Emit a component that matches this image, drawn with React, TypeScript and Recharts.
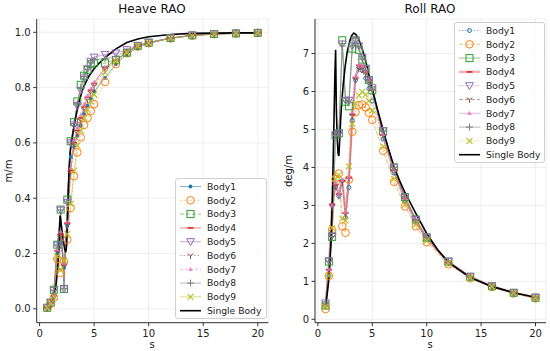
import React from 'react';
import { LineChart, Line, XAxis, YAxis, CartesianGrid, Legend } from 'recharts';

const FONT = '"DejaVu Sans", Verdana, sans-serif';

// wave periods of the array bodies (s)
const periods = [0.7, 1.01, 1.31, 1.62, 1.93, 2.24, 2.54, 2.85, 3.16, 3.46, 3.77, 4.08, 4.39, 4.69, 5.0, 6, 7, 8, 9, 10, 12, 14, 16, 18, 20];

// Heave RAO (m/m)
const heaveBody1 = [0.003, 0.02, 0.045, 0.2, 0.24, 0.15, 0.3, 0.55, 0.585, 0.626, 0.662, 0.705, 0.735, 0.76, 0.786, 0.835, 0.885, 0.92, 0.945, 0.96, 0.978, 0.988, 0.993, 0.996, 0.998];
const heaveBody2 = [0.004, 0.018, 0.04, 0.18, 0.13, 0.17, 0.25, 0.365, 0.48, 0.566, 0.62, 0.665, 0.69, 0.715, 0.74, 0.82, 0.885, 0.924, 0.948, 0.96, 0.978, 0.988, 0.993, 0.996, 0.998];
const heaveBody3 = [0.004, 0.022, 0.069, 0.232, 0.359, 0.072, 0.395, 0.606, 0.675, 0.75, 0.81, 0.843, 0.864, 0.885, 0.89, 0.888, 0.9, 0.926, 0.951, 0.963, 0.979, 0.989, 0.994, 0.996, 0.998];
const heaveBody4 = [0.003, 0.021, 0.048, 0.21, 0.27, 0.16, 0.31, 0.5, 0.6, 0.645, 0.69, 0.73, 0.765, 0.79, 0.815, 0.872, 0.9, 0.928, 0.95, 0.962, 0.979, 0.989, 0.994, 0.996, 0.998];
const heaveBody5 = [0.005, 0.024, 0.066, 0.23, 0.357, 0.072, 0.385, 0.6, 0.665, 0.735, 0.79, 0.835, 0.868, 0.895, 0.91, 0.92, 0.925, 0.937, 0.952, 0.963, 0.979, 0.989, 0.994, 0.996, 0.998];
const heaveBody6 = [0.003, 0.02, 0.047, 0.205, 0.26, 0.155, 0.3, 0.49, 0.59, 0.635, 0.68, 0.72, 0.755, 0.78, 0.805, 0.865, 0.895, 0.926, 0.95, 0.962, 0.979, 0.989, 0.994, 0.996, 0.998];
const heaveBody7 = [0.003, 0.021, 0.049, 0.215, 0.28, 0.165, 0.315, 0.51, 0.61, 0.655, 0.7, 0.74, 0.77, 0.795, 0.82, 0.875, 0.9, 0.93, 0.95, 0.962, 0.979, 0.989, 0.994, 0.996, 0.998];
const heaveBody8 = [0.004, 0.023, 0.067, 0.231, 0.358, 0.073, 0.39, 0.603, 0.67, 0.742, 0.8, 0.84, 0.866, 0.89, 0.9, 0.905, 0.912, 0.932, 0.952, 0.963, 0.979, 0.989, 0.994, 0.996, 0.998];
const heaveBody9 = [0.004, 0.019, 0.043, 0.19, 0.14, 0.175, 0.27, 0.38, 0.5, 0.59, 0.645, 0.69, 0.72, 0.75, 0.775, 0.855, 0.895, 0.926, 0.95, 0.962, 0.978, 0.988, 0.993, 0.996, 0.998];

// Roll RAO (deg/m)
const rollBody1 = [0.35, 1.15, 3.0, 3.5, 3.24, 3.65, 2.68, 3.47, 5.24, 6.3, 6.63, 6.55, 6.35, 6.08, 5.75, 4.75, 3.85, 3.1, 2.55, 2.1, 1.48, 1.1, 0.86, 0.69, 0.56];
const rollBody2 = [0.27, 1.14, 2.35, 3.7, 3.84, 2.45, 2.28, 3.68, 4.94, 5.46, 5.64, 5.66, 5.58, 5.44, 5.25, 4.44, 3.62, 2.97, 2.45, 2.03, 1.45, 1.08, 0.85, 0.68, 0.55];
const rollBody3 = [0.36, 1.52, 2.17, 4.85, 4.9, 7.35, 5.73, 5.61, 7.13, 7.35, 7.1, 6.84, 6.6, 6.3, 6.03, 4.95, 4.0, 3.22, 2.63, 2.15, 1.52, 1.12, 0.87, 0.7, 0.57];
const rollBody4 = [0.38, 1.3, 3.03, 3.55, 3.3, 3.65, 2.8, 3.72, 5.4, 6.37, 6.69, 6.65, 6.52, 6.3, 6.05, 4.85, 3.92, 3.18, 2.6, 2.14, 1.5, 1.11, 0.87, 0.7, 0.57];
const rollBody5 = [0.43, 1.54, 2.2, 4.85, 4.9, 7.25, 5.77, 5.77, 7.2, 7.35, 7.2, 6.9, 6.6, 6.3, 6.1, 4.97, 4.0, 3.22, 2.63, 2.17, 1.53, 1.13, 0.88, 0.7, 0.58];
const rollBody6 = [0.37, 1.28, 2.95, 3.5, 3.25, 3.6, 2.75, 3.7, 5.35, 6.3, 6.6, 6.6, 6.45, 6.25, 6.0, 4.82, 3.9, 3.16, 2.59, 2.13, 1.5, 1.11, 0.87, 0.7, 0.57];
const rollBody7 = [0.38, 1.32, 3.0, 3.6, 3.3, 3.67, 2.82, 3.75, 5.45, 6.4, 6.72, 6.67, 6.55, 6.32, 6.08, 4.87, 3.93, 3.19, 2.61, 2.14, 1.5, 1.11, 0.87, 0.7, 0.57];
const rollBody8 = [0.4, 1.53, 2.18, 4.85, 4.9, 7.2, 5.75, 5.75, 7.2, 7.4, 7.15, 6.85, 6.55, 6.25, 6.05, 4.96, 4.0, 3.22, 2.63, 2.16, 1.53, 1.13, 0.88, 0.7, 0.58];
const rollBody9 = [0.33, 1.15, 2.4, 3.7, 3.8, 2.65, 2.6, 4.03, 5.15, 5.68, 5.9, 5.99, 5.92, 5.75, 5.5, 4.55, 3.7, 3.02, 2.5, 2.07, 1.47, 1.09, 0.86, 0.69, 0.56];

// single body reference curves (finer period grid)
const singleHeaveT = [0.7, 0.9, 1.1, 1.3, 1.5, 1.65, 1.78, 1.88, 2.0, 2.15, 2.3, 2.4, 2.48, 2.56, 2.64, 2.72, 2.8, 2.9, 3.0, 3.2, 3.43, 3.7, 4.0, 4.5, 5.0, 5.5, 6, 7, 8, 9, 10, 12, 14, 16, 18, 20];
const singleHeave = [0.0, 0.01, 0.025, 0.05, 0.085, 0.14, 0.22, 0.337, 0.3, 0.255, 0.215, 0.205, 0.23, 0.32, 0.44, 0.52, 0.565, 0.595, 0.62, 0.67, 0.715, 0.76, 0.8, 0.84, 0.868, 0.89, 0.908, 0.94, 0.963, 0.976, 0.984, 0.992, 0.996, 0.997, 0.998, 0.998];
const singleRollT = [0.7, 0.85, 1.0, 1.1, 1.2, 1.3, 1.4, 1.48, 1.56, 1.63, 1.7, 1.78, 1.86, 1.93, 2.0, 2.1, 2.2, 2.35, 2.5, 2.7, 2.9, 3.1, 3.3, 3.5, 3.7, 3.92, 4.2, 4.53, 4.8, 5.14, 5.5, 6, 6.5, 7, 7.5, 8, 9, 10, 11, 12, 14, 16, 18, 20];
const singleRoll = [0.3, 0.65, 1.03, 1.45, 2.0, 2.9, 4.1, 5.24, 6.4, 7.1, 5.5, 4.75, 4.35, 4.3, 4.7, 5.3, 5.75, 6.25, 6.65, 7.05, 7.3, 7.47, 7.54, 7.5, 7.4, 7.26, 7.0, 6.65, 6.3, 5.9, 5.5, 4.98, 4.48, 4.02, 3.66, 3.34, 2.79, 2.26, 1.83, 1.5, 1.1, 0.86, 0.7, 0.58];

const bodyNames = ['Body1', 'Body2', 'Body3', 'Body4', 'Body5', 'Body6', 'Body7', 'Body8', 'Body9'];
const bodyColors = ['#1f77b4', '#ff7f0e', '#2ca02c', '#d62728', '#9467bd', '#8c564b', '#e377c2', '#7f7f7f', '#bcbd22'];

const xTicks = [0, 5, 10, 15, 20];
const heaveTicks = [0, 0.2, 0.4, 0.6, 0.8, 1.0];
const rollTicks = [0, 1, 2, 3, 4, 5, 6, 7];

// line/marker styles per body for each panel
const heaveStyles = [
  { shape: 'point', dash: undefined },
  { shape: 'circle', dash: '1.5 2' },
  { shape: 'square', dash: '4 2' },
  { shape: 'hline', dash: undefined },
  { shape: 'tridown', dash: undefined },
  { shape: 'y1', dash: '1.5 2' },
  { shape: 'triup', dash: '3 2' },
  { shape: 'plus', dash: undefined },
  { shape: 'cross', dash: undefined },
];
const rollStyles = [
  { shape: 'smallcircle', dash: '1.5 1.5' },
  { shape: 'circle', dash: '4 2' },
  { shape: 'square', dash: undefined },
  { shape: 'hline', dash: undefined, thick: true },
  { shape: 'tridown', dash: '1.5 1.5' },
  { shape: 'y1', dash: '4 2' },
  { shape: 'triup', dash: undefined },
  { shape: 'plus', dash: undefined },
  { shape: 'cross', dash: '1.5 1.5' },
];

const toRows = (xs: number[], ys: number[]) => xs.map((x, i) => ({ x, y: ys[i] }));

function Marker({ shape, x, y, color }: { shape: string; x: number; y: number; color: string }) {
  switch (shape) {
    case 'point':
      return <circle cx={x} cy={y} r={1.9} fill={color} />;
    case 'smallcircle':
      return <circle cx={x} cy={y} r={2} fill="none" stroke={color} strokeWidth={1} />;
    case 'circle':
      return <circle cx={x} cy={y} r={3.8} fill="none" stroke={color} strokeWidth={1} />;
    case 'square':
      return <rect x={x - 3.5} y={y - 3.5} width={7} height={7} fill="none" stroke={color} strokeWidth={1} />;
    case 'tridown':
      return <polygon points={`${x - 3.9},${y - 3} ${x + 3.9},${y - 3} ${x},${y + 3.9}`} fill="none" stroke={color} strokeWidth={1} />;
    case 'triup':
      return <polygon points={`${x - 2.4},${y + 1.8} ${x + 2.4},${y + 1.8} ${x},${y - 2.6}`} fill={color} fillOpacity={0.8} />;
    case 'hline':
      return <line x1={x - 3} x2={x + 3} y1={y} y2={y} stroke={color} strokeWidth={1.6} />;
    case 'y1':
      return (
        <g stroke={color} strokeWidth={1}>
          <line x1={x} y1={y} x2={x} y2={y + 3.5} />
          <line x1={x} y1={y} x2={x - 3} y2={y - 1.8} />
          <line x1={x} y1={y} x2={x + 3} y2={y - 1.8} />
        </g>
      );
    case 'plus':
      return (
        <g stroke={color} strokeWidth={1}>
          <line x1={x - 3.5} x2={x + 3.5} y1={y} y2={y} />
          <line x1={x} x2={x} y1={y - 3.5} y2={y + 3.5} />
        </g>
      );
    case 'cross':
      return (
        <g stroke={color} strokeWidth={1.1}>
          <line x1={x - 3} x2={x + 3} y1={y - 3} y2={y + 3} />
          <line x1={x - 3} x2={x + 3} y1={y + 3} y2={y - 3} />
        </g>
      );
    default:
      return null;
  }
}

const makeDot = (shape: string, color: string, id: string) => (p: any) => (
  <g key={`${id}-${p.index}`}>
    {p.cx != null && p.cy != null ? <Marker shape={shape} x={p.cx} y={p.cy} color={color} /> : null}
  </g>
);

function LegendBox({ styles, width, height }: { styles: any[]; width: number; height: number }) {
  const rowH = 13.8;
  return (
    <div
      style={{
        width,
        height,
        boxSizing: 'border-box',
        background: 'rgba(255,255,255,0.8)',
        border: '1px solid #d0d0d0',
        borderRadius: 3,
      }}
    >
      <svg width={width - 2} height={height - 2} style={{ display: 'block' }}>
        {bodyNames.map((name, i) => {
          const cy = 7.5 + i * rowH;
          const c = bodyColors[i];
          const s = styles[i];
          return (
            <g key={name}>
              <line x1={4} x2={25} y1={cy} y2={cy} stroke={c} strokeOpacity={s.thick ? 0.35 : 0.55} strokeWidth={s.thick ? 2.5 : 1} strokeDasharray={s.dash} />
              <Marker shape={s.shape} x={14.5} y={cy} color={c} />
              <text x={31} y={cy + 3.3} fontSize={9.2} fontFamily={FONT} fill="#222">{name}</text>
            </g>
          );
        })}
        <line x1={4} x2={25} y1={7.5 + 9 * rowH} y2={7.5 + 9 * rowH} stroke="#000" strokeWidth={1.6} />
        <text x={31} y={7.5 + 9 * rowH + 3.3} fontSize={9.2} fontFamily={FONT} fill="#222">Single Body</text>
      </svg>
    </div>
  );
}

function Panel({
  series, single, singleT, styles, ticks, yDomain, tickFmt, yAxisWidth, rightMargin, legendPos,
}: any) {
  const axisColor = '#333';
  const tickStyle = { fontSize: 10, fontFamily: FONT, fill: '#222' };
  return (
    <LineChart width={275} height={351} margin={{ top: 19, right: rightMargin, bottom: 0, left: 0 }}>
      <CartesianGrid stroke="#ebebeb" strokeWidth={0.8} />
      <XAxis
        dataKey="x"
        type="number"
        domain={[-0.265, 20.965]}
        ticks={xTicks}
        allowDataOverflow
        height={28.3}
        tickSize={3.5}
        tickMargin={3.3}
        stroke={axisColor}
        tick={tickStyle}
      />
      <XAxis xAxisId="top" orientation="top" dataKey="x" type="number" domain={[-0.265, 20.965]} height={0} tick={false} tickLine={false} stroke={axisColor} />
      <YAxis
        type="number"
        domain={yDomain}
        ticks={ticks}
        allowDataOverflow
        width={yAxisWidth}
        tickSize={3.5}
        tickMargin={2.5}
        stroke={axisColor}
        tick={tickStyle}
        tickFormatter={tickFmt}
      />
      <YAxis yAxisId="right" orientation="right" domain={yDomain} width={0} tick={false} tickLine={false} stroke={axisColor} />
      {series.map((ys: number[], i: number) => {
        const s = styles[i];
        return (
          <Line
            key={bodyNames[i]}
            data={toRows(periods, ys)}
            dataKey="y"
            name={bodyNames[i]}
            type="linear"
            stroke={bodyColors[i]}
            strokeOpacity={s.thick ? 0.35 : 0.55}
            strokeWidth={s.thick ? 2.5 : 1}
            strokeDasharray={s.dash}
            dot={makeDot(s.shape, bodyColors[i], bodyNames[i])}
            activeDot={false}
            isAnimationActive={false}
          />
        );
      })}
      <Line
        data={toRows(singleT, single)}
        dataKey="y"
        name="Single Body"
        type="linear"
        stroke="#000"
        strokeWidth={1.6}
        dot={false}
        activeDot={false}
        isAnimationActive={false}
      />
      <Legend
        layout="horizontal"
        verticalAlign="middle"
        align="center"
        wrapperStyle={{ position: 'absolute', left: legendPos.left, top: legendPos.top, width: legendPos.width, height: legendPos.height }}
        content={() => <LegendBox styles={styles} width={legendPos.width} height={legendPos.height} />}
      />
    </LineChart>
  );
}

const textStyle: React.CSSProperties = { position: 'absolute', fontFamily: FONT, color: '#111', whiteSpace: 'nowrap', lineHeight: '12px' };

export default function App() {
  return (
    <div style={{ position: 'absolute', left: 0, top: 0, width: 550, height: 351, background: '#fff', overflow: 'hidden' }}>
      <div style={{ position: 'absolute', left: 0, top: 0 }}>
        <Panel
          series={[heaveBody1, heaveBody2, heaveBody3, heaveBody4, heaveBody5, heaveBody6, heaveBody7, heaveBody8, heaveBody9]}
          single={singleHeave}
          singleT={singleHeaveT}
          styles={heaveStyles}
          ticks={heaveTicks}
          yDomain={[-0.05, 1.048]}
          tickFmt={(v: number) => v.toFixed(1)}
          yAxisWidth={36.7}
          rightMargin={6.7}
          legendPos={{ left: 175, top: 178, width: 92, height: 141 }}
        />
      </div>
      <div style={{ position: 'absolute', left: 275, top: 0 }}>
        <Panel
          series={[rollBody1, rollBody2, rollBody3, rollBody4, rollBody5, rollBody6, rollBody7, rollBody8, rollBody9]}
          single={singleRoll}
          singleT={singleRollT}
          styles={rollStyles}
          ticks={rollTicks}
          yDomain={[-0.09, 7.91]}
          tickFmt={(v: number) => String(v)}
          yAxisWidth={40}
          rightMargin={4}
          legendPos={{ left: 179, top: 22, width: 91, height: 141 }}
        />
      </div>
      <div style={{ ...textStyle, left: 152, top: 3, fontSize: 12, transform: 'translateX(-50%)' }}>Heave RAO</div>
      <div style={{ ...textStyle, left: 430, top: 3, fontSize: 12, transform: 'translateX(-50%)' }}>Roll RAO</div>
      <div style={{ ...textStyle, left: 152, top: 339, fontSize: 10, transform: 'translateX(-50%)' }}>s</div>
      <div style={{ ...textStyle, left: 430, top: 339, fontSize: 10, transform: 'translateX(-50%)' }}>s</div>
      <div style={{ ...textStyle, left: 9, top: 171, fontSize: 10, transform: 'translate(-50%, -50%) rotate(-90deg)' }}>m/m</div>
      <div style={{ ...textStyle, left: 289, top: 171, fontSize: 10, transform: 'translate(-50%, -50%) rotate(-90deg)' }}>deg/m</div>
    </div>
  );
}
